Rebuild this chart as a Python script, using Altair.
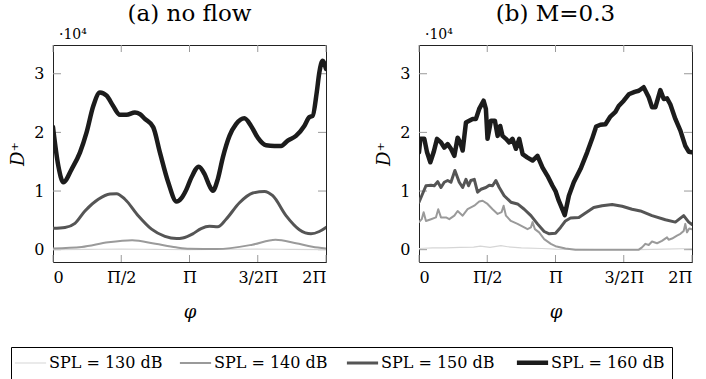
import math

import altair as alt
import pandas as pd

PI = math.pi

# ---- series labels and styling -------------------------------------------
SERIES = ["SPL = 130 dB", "SPL = 140 dB", "SPL = 150 dB", "SPL = 160 dB"]
COLORS = ["#d6d6d6", "#9a9a9a", "#555555", "#1c1c1c"]
WIDTHS = [1.2, 2.0, 3.0, 4.5]

# x positions are given in multiples of pi, D+ values in units of 1e4

# (a) no flow
a130_phi = [0.0, 0.25, 0.5, 0.75, 1.0, 1.25, 1.5, 1.75, 2.0]
a130_d = [0.0, 0.005, 0.01, 0.005, 0.0, 0.005, 0.01, 0.005, 0.0]

a140_phi = [0.0, 0.21, 0.405, 0.58, 0.75, 0.9, 1.0, 1.2, 1.46, 1.63, 1.78, 1.9, 2.0]
a140_d = [0.02, 0.045, 0.125, 0.16, 0.10, 0.04, 0.015, 0.01, 0.085, 0.17, 0.11, 0.05, 0.02]

a150_phi = [0.0, 0.088, 0.161, 0.234, 0.332, 0.417, 0.466, 0.527, 0.624, 0.722,
            0.82, 0.905, 0.95, 1.024, 1.085, 1.146, 1.207, 1.268, 1.366, 1.463,
            1.549, 1.61, 1.707, 1.805, 1.89, 1.951, 2.0]
a150_d = [0.364, 0.38, 0.45, 0.66, 0.86, 0.95, 0.955, 0.86, 0.58, 0.35,
          0.227, 0.19, 0.2, 0.27, 0.36, 0.40, 0.39, 0.52, 0.80, 0.966,
          0.994, 0.92, 0.58, 0.34, 0.27, 0.31, 0.38]

a160_phi = [0.0, 0.039, 0.076, 0.137, 0.198, 0.246, 0.295, 0.344, 0.393, 0.441,
            0.49, 0.539, 0.6, 0.637, 0.673, 0.734, 0.783, 0.844, 0.905, 0.941,
            0.976, 1.012, 1.068, 1.11, 1.146, 1.171, 1.207, 1.244, 1.293, 1.341,
            1.402, 1.451, 1.5, 1.561, 1.622, 1.671, 1.72, 1.78, 1.841, 1.878,
            1.902, 1.932, 1.951, 1.976, 2.0]
a160_d = [2.09, 1.43, 1.15, 1.375, 1.66, 2.0, 2.45, 2.68, 2.625, 2.45,
          2.30, 2.30, 2.34, 2.31, 2.23, 2.09, 1.66, 1.15, 0.82, 0.88,
          1.02, 1.22, 1.415, 1.29, 1.09, 1.006, 1.2, 1.57, 1.94, 2.14,
          2.24, 2.11, 1.91, 1.78, 1.77, 1.77, 1.86, 1.94, 2.11, 2.26,
          2.28, 2.68, 3.02, 3.22, 3.08]

# (b) M=0.3
b130_phi = [0.0, 0.1, 0.2, 0.3, 0.4, 0.45, 0.52, 0.6, 0.65, 0.75, 0.9, 1.0, 1.3, 1.6, 1.8, 2.0]
b130_d = [0.02, 0.03, 0.03, 0.04, 0.045, 0.06, 0.04, 0.07, 0.05, 0.03, 0.02, 0.01, 0.0, 0.0, 0.01, 0.02]

b140_phi = [0.0, 0.02, 0.034, 0.051, 0.088, 0.124, 0.141, 0.161, 0.198, 0.222,
            0.259, 0.283, 0.32, 0.356, 0.405, 0.441, 0.466, 0.502, 0.539, 0.576,
            0.605, 0.62, 0.637, 0.673, 0.722, 0.771, 0.795, 0.82, 0.832, 0.849,
            0.88, 0.917, 0.966, 1.0, 1.073, 1.146, 1.341, 1.61, 1.634, 1.659,
            1.683, 1.707, 1.744, 1.78, 1.817, 1.829, 1.854, 1.89, 1.915, 1.939,
            1.951, 1.963, 1.98, 2.0]
b140_d = [0.47, 0.52, 0.64, 0.49, 0.52, 0.55, 0.69, 0.55, 0.55, 0.52,
          0.58, 0.66, 0.58, 0.69, 0.75, 0.82, 0.835, 0.78, 0.69, 0.61,
          0.64, 0.75, 0.58, 0.49, 0.44, 0.38, 0.35, 0.38, 0.47, 0.35,
          0.295, 0.18, 0.10, 0.06, 0.02, 0.0, 0.0, 0.0, 0.04, 0.10,
          0.08, 0.14, 0.11, 0.15, 0.21, 0.17, 0.19, 0.24, 0.27, 0.32,
          0.44, 0.295, 0.36, 0.35]

b150_phi = [0.0, 0.02, 0.051, 0.088, 0.112, 0.137, 0.161, 0.185, 0.21, 0.234,
            0.263, 0.295, 0.32, 0.344, 0.363, 0.38, 0.405, 0.429, 0.454, 0.49,
            0.515, 0.539, 0.563, 0.588, 0.624, 0.673, 0.722, 0.771, 0.82, 0.868,
            0.917, 0.954, 1.0, 1.037, 1.073, 1.11, 1.171, 1.22, 1.28, 1.341,
            1.415, 1.488, 1.561, 1.622, 1.707, 1.805, 1.878, 1.939, 1.976, 2.0]
b150_d = [0.81, 0.92, 1.09, 1.10, 1.09, 1.16, 1.06, 1.15, 1.18, 1.15,
          1.35, 1.15, 1.06, 1.20, 1.09, 1.18, 1.20, 0.98, 1.03, 1.06,
          1.10, 1.09, 1.18, 1.06, 0.92, 0.81, 0.78, 0.69, 0.58, 0.44,
          0.31, 0.27, 0.28, 0.38, 0.49, 0.54, 0.55, 0.625, 0.72, 0.75,
          0.77, 0.74, 0.69, 0.66, 0.58, 0.51, 0.47, 0.58, 0.47, 0.43]

b160_phi = [0.0, 0.01, 0.039, 0.059, 0.083, 0.107, 0.132, 0.161, 0.185, 0.21,
            0.234, 0.259, 0.283, 0.302, 0.32, 0.344, 0.368, 0.393, 0.417, 0.441,
            0.473, 0.49, 0.502, 0.527, 0.556, 0.576, 0.595, 0.612, 0.637, 0.661,
            0.685, 0.71, 0.734, 0.759, 0.795, 0.832, 0.868, 0.905, 0.941, 0.978,
            1.0, 1.024, 1.068, 1.098, 1.134, 1.183, 1.232, 1.268, 1.298, 1.329,
            1.366, 1.402, 1.439, 1.463, 1.5, 1.537, 1.58, 1.61, 1.646, 1.683,
            1.707, 1.732, 1.768, 1.793, 1.817, 1.841, 1.878, 1.915, 1.951, 1.976,
            2.0]
b160_d = [1.66, 1.89, 1.89, 1.66, 1.49, 1.66, 1.89, 1.83, 1.74, 1.80,
          1.72, 1.60, 1.91, 1.83, 1.69, 2.17, 2.20, 2.23, 2.23, 2.40,
          2.54, 2.40, 1.89, 2.20, 2.20, 1.94, 2.11, 1.94, 1.89, 1.83,
          1.89, 1.72, 1.89, 1.63, 1.57, 1.52, 1.60, 1.40, 1.26, 1.09,
          1.00, 0.835, 0.59, 0.92, 1.15, 1.375, 1.66, 1.89, 2.10, 2.13,
          2.14, 2.27, 2.35, 2.45, 2.54, 2.65, 2.69, 2.71, 2.77, 2.60,
          2.43, 2.43, 2.72, 2.57, 2.58, 2.48, 2.23, 2.03, 1.77, 1.67,
          1.66]

X_TICKS = [0, PI / 2, PI, 3 * PI / 2, 2 * PI]
Y_TICKS = [0, 1, 2, 3]

W, H = 273, 217
Y_DOM = [-0.21, 3.49]
FONT = "DejaVu Serif"
TICK_COLOR = "#9a9a9a"


def frame(pairs):
    rows = []
    for name, phis, vals in pairs:
        for p, v in zip(phis, vals):
            rows.append({"series": name, "phi": p * PI, "D": v})
    return pd.DataFrame(rows)


df_a = frame(zip(SERIES, [a130_phi, a140_phi, a150_phi, a160_phi],
                 [a130_d, a140_d, a150_d, a160_d]))
df_b = frame(zip(SERIES, [b130_phi, b140_phi, b150_phi, b160_phi],
                 [b130_d, b140_d, b150_d, b160_d]))


def panel(df, title, interp):
    x = alt.X(
        "phi:Q",
        scale=alt.Scale(domain=[0, 2 * PI], nice=False, zero=False),
        axis=alt.Axis(
            values=X_TICKS,
            labelExpr="['0','\u03a0/2','\u03a0','3/2\u03a0','2\u03a0'][round(datum.value*2/PI)]",
            title="\u03c6",
            titleFontStyle="italic",
        ),
    )
    y = alt.Y(
        "D:Q",
        scale=alt.Scale(domain=Y_DOM, nice=False, zero=False),
        axis=alt.Axis(values=Y_TICKS, format="d", title="D\u207a", titleFontStyle="italic"),
    )
    lines = alt.Chart(df).mark_line(
        interpolate=interp, clip=True, strokeJoin="round", strokeCap="round"
    ).encode(
        x=x,
        y=y,
        color=alt.Color("series:N", scale=alt.Scale(domain=SERIES, range=COLORS), title=None),
        strokeWidth=alt.StrokeWidth(
            "series:N", scale=alt.Scale(type="ordinal", domain=SERIES, range=WIDTHS), title=None
        ),
    )

    # inward tick marks on all four sides of the frame
    yt = alt.Chart(pd.DataFrame({"D": Y_TICKS}))
    xt = alt.Chart(pd.DataFrame({"phi": X_TICKS}))
    rule = dict(color=TICK_COLOR, strokeWidth=1)
    t_left = yt.mark_rule(**rule).encode(y=y, x=alt.value(0), x2=alt.value(8))
    t_right = yt.mark_rule(**rule).encode(y=y, x=alt.value(W - 8), x2=alt.value(W))
    t_top = xt.mark_rule(**rule).encode(x=x, y=alt.value(0), y2=alt.value(7))
    t_bot = xt.mark_rule(**rule).encode(x=x, y=alt.value(H - 7), y2=alt.value(H))

    exponent = alt.Chart(pd.DataFrame({"t": ["\u00b710\u2074"]})).mark_text(
        align="left", baseline="alphabetic", font=FONT, fontSize=14, color="#000"
    ).encode(text="t:N", x=alt.value(6), y=alt.value(-6))

    return alt.layer(t_left, t_right, t_top, t_bot, lines, exponent).properties(
        width=W, height=H, title=alt.TitleParams(title, offset=2)
    )


left = panel(df_a, "(a) no flow", "monotone")
right = panel(df_b, "(b) M=0.3", "linear")

chart = (
    alt.hconcat(left, right, spacing=48)
    .properties(padding={"left": 9, "top": 2, "right": 0, "bottom": 0})
    .configure(font=FONT)
    .configure_view(stroke="#222222", strokeWidth=1)
    .configure_axis(
        labelFont=FONT, labelFontSize=16, labelColor="#000", titleFont=FONT,
        titleFontWeight="normal", titleColor="#000", ticks=False, domain=False, grid=False,
    )
    .configure_axisX(labelPadding=7, titlePadding=18, titleFontSize=18)
    .configure_axisY(labelPadding=9, titlePadding=6, titleFontSize=18)
    .configure_title(font=FONT, fontSize=23, fontWeight="normal", color="#000", anchor="middle")
    .configure_legend(
        orient="none", legendX=-42, legendY=302, direction="horizontal", columns=4,
        strokeColor="#000", padding=7,
        # a long horizontal stroke drawn with a small nominal symbol size keeps the row short
        symbolType="M-2.6,0H2.6", symbolSize=144, symbolOffset=4, symbolFillColor="transparent",
        labelFont=FONT, labelFontSize=16, labelColor="#000", labelOffset=10, columnPadding=12,
    )
)

chart.save("out.html", embed_options={"renderer": "svg", "actions": False})
